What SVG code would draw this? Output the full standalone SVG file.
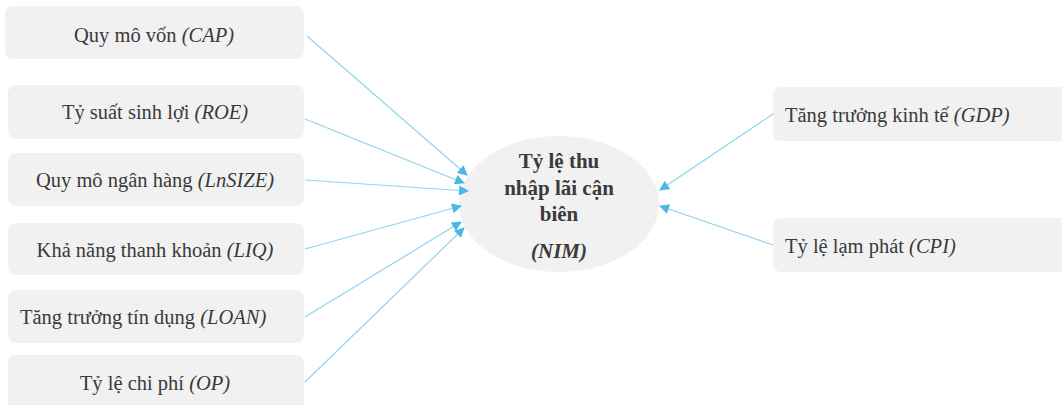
<svg xmlns="http://www.w3.org/2000/svg" width="1062" height="405" viewBox="0 0 1062 405">
<defs>
<style>
.box{fill:#f1f1f1;}
.lbl{font-family:"Liberation Serif","Times New Roman",serif;font-size:20.5px;fill:#3a3a3a;}
.it{font-style:italic;}
.ctr{font-family:"Liberation Serif","Times New Roman",serif;font-size:21px;font-weight:bold;fill:#3a3a3a;text-anchor:middle;}
.conn{stroke:#8fd4f0;stroke-width:1.2;fill:none;marker-end:url(#arr);}
</style>
<marker id="arr" viewBox="0 0 10 10" refX="9" refY="5" markerWidth="11" markerHeight="10" markerUnits="userSpaceOnUse" orient="auto">
<path d="M0,0 L10,5 L0,10 z" fill="#4bb8e6"/>
</marker>
</defs>
<rect width="1062" height="405" fill="#ffffff"/>
<g id="n-center">
<ellipse cx="559" cy="204" rx="100" ry="68" fill="#f1f1f1"/>
<text class="ctr" x="559" y="168">Tỷ lệ thu</text>
<text class="ctr" x="559" y="195">nhập lãi cận</text>
<text class="ctr" x="559" y="221">biên</text>
<text class="ctr it" x="559" y="258">(NIM)</text>
</g>
<g id="n-cap">
<rect class="box" x="5" y="6" width="299" height="53" rx="8"/>
<text class="lbl" x="154" y="42" text-anchor="middle">Quy mô vốn <tspan class="it">(CAP)</tspan></text>
</g>
<g id="n-roe">
<rect class="box" x="8" y="85" width="296" height="54" rx="8"/>
<text class="lbl" x="155" y="119" text-anchor="middle">Tỷ suất sinh lợi <tspan class="it">(ROE)</tspan></text>
</g>
<g id="n-size">
<rect class="box" x="8" y="153" width="296" height="53" rx="8"/>
<text class="lbl" x="155" y="187" text-anchor="middle">Quy mô ngân hàng <tspan class="it">(LnSIZE)</tspan></text>
</g>
<g id="n-liq">
<rect class="box" x="8" y="223" width="296" height="52" rx="8"/>
<text class="lbl" x="155" y="257" text-anchor="middle">Khả năng thanh khoản <tspan class="it">(LIQ)</tspan></text>
</g>
<g id="n-loan">
<rect class="box" x="8" y="290" width="296" height="53" rx="8"/>
<text class="lbl" x="20" y="324">Tăng trưởng tín dụng <tspan class="it">(LOAN)</tspan></text>
</g>
<g id="n-op">
<rect class="box" x="8" y="355" width="296" height="60" rx="8"/>
<text class="lbl" x="155" y="390" text-anchor="middle">Tỷ lệ chi phí <tspan class="it">(OP)</tspan></text>
</g>
<g id="n-gdp">
<rect class="box" x="773" y="87" width="300" height="54" rx="8"/>
<text class="lbl" x="785" y="122">Tăng trưởng kinh tế <tspan class="it">(GDP)</tspan></text>
</g>
<g id="n-cpi">
<rect class="box" x="773" y="218" width="300" height="54" rx="8"/>
<text class="lbl" x="785" y="253">Tỷ lệ lạm phát <tspan class="it">(CPI)</tspan></text>
</g>
<g id="connectors">
<line class="conn" x1="307" y1="36" x2="467" y2="175"/>
<line class="conn" x1="305" y1="119" x2="464" y2="183"/>
<line class="conn" x1="305" y1="180" x2="468" y2="191"/>
<line class="conn" x1="305" y1="249" x2="461" y2="206"/>
<line class="conn" x1="305" y1="317" x2="461" y2="222"/>
<line class="conn" x1="305" y1="382" x2="464" y2="228"/>
<line class="conn" x1="773" y1="114" x2="660" y2="190"/>
<line class="conn" x1="773" y1="245" x2="660" y2="206"/>
</g>
</svg>
